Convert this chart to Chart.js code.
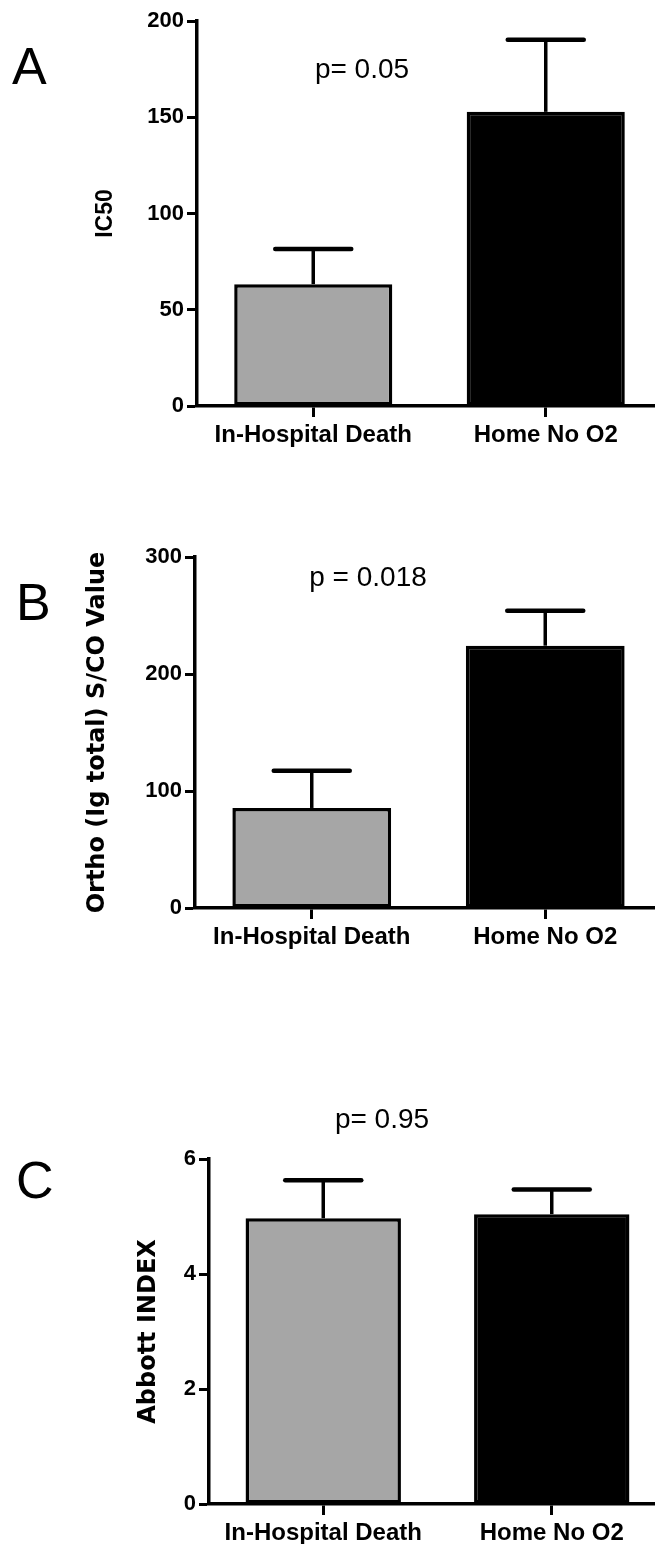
<!DOCTYPE html>
<html>
<head>
<meta charset="utf-8">
<script src="https://cdn.jsdelivr.net/npm/chart.js"></script>
<style>
  html, body { margin: 0; padding: 0; background: #fff; overflow: hidden; }
  body { width: 655px; height: 1544px; position: relative; }
  canvas { position: absolute; left: 0; }
</style>
</head>
<body>
<canvas id="chartA" width="662" height="460" style="top:0px"></canvas>
<canvas id="chartB" width="662" height="440" style="top:520px"></canvas>
<canvas id="chartC" width="666" height="454" style="top:1090px"></canvas>
<script>
// data (mean + SEM)
const categories = ['In-Hospital Death', 'Home No O2'];
const barColors = ['#a6a6a6', '#000000'];

const ic50Means = [63.3, 152.8];
const ic50Sem = [18.2, 37.5];
const ic50Ticks = [0, 50, 100, 150, 200];

const orthoMeans = [85.5, 224.2];
const orthoSem = [31.9, 29.9];
const orthoTicks = [0, 100, 200, 300];

const abbottMeans = [4.97, 5.04];
const abbottSem = [0.66, 0.43];
const abbottTicks = [0, 2, 4, 6];

const sans = "'Liberation Sans', Arial, sans-serif";

// error bars, p value and panel letter
const overlay = {
  id: 'overlay',
  afterDatasetsDraw(chart, args, opts) {
    const ctx = chart.ctx;
    const y = chart.scales.y;
    const meta = chart.getDatasetMeta(0);
    ctx.save();
    ctx.strokeStyle = '#000';
    meta.data.forEach((bar, i) => {
      const top = y.getPixelForValue(opts.means[i]);
      const hi = y.getPixelForValue(opts.means[i] + opts.sem[i]);
      ctx.lineWidth = 3.5;
      ctx.lineCap = 'butt';
      ctx.beginPath();
      ctx.moveTo(bar.x, top);
      ctx.lineTo(bar.x, hi);
      ctx.stroke();
      ctx.lineWidth = 4.5;
      ctx.lineCap = 'round';
      ctx.beginPath();
      ctx.moveTo(bar.x - 38, hi);
      ctx.lineTo(bar.x + 38, hi);
      ctx.stroke();
    });
    ctx.fillStyle = '#000';
    ctx.textBaseline = 'alphabetic';
    ctx.textAlign = 'center';
    ctx.font = "28px " + sans;
    ctx.fillText(opts.pText, opts.pX, opts.pY);
    ctx.textAlign = 'left';
    ctx.font = "52px " + sans;
    ctx.fillText(opts.letter, opts.letterX, opts.letterY);
    ctx.restore();
  }
};

function makePanel(id, p) {
  new Chart(document.getElementById(id), {
    type: 'bar',
    data: {
      labels: categories,
      datasets: [{
        data: p.means,
        backgroundColor: barColors,
        borderColor: '#000',
        borderWidth: 3.5,
        borderSkipped: false,
        barPercentage: 0.68,
        categoryPercentage: 1
      }]
    },
    options: {
      responsive: false,
      animation: false,
      events: [],
      layout: { padding: { top: p.padTop, right: 0, bottom: 0, left: 0 } },
      plugins: {
        legend: { display: false },
        tooltip: { enabled: false },
        overlay: p.overlay
      },
      scales: {
        x: {
          offset: true,
          afterFit: s => { s.height = p.xHeight; },
          grid: { offset: false, drawOnChartArea: false, drawTicks: true, tickLength: 11, tickWidth: 3, color: '#000' },
          border: { display: true, color: '#000', width: 3.5 },
          ticks: {
            color: '#000', padding: 4, autoSkip: false, maxRotation: 0, minRotation: 0,
            font: { family: sans, size: 24, weight: 'bold' }
          }
        },
        y: {
          min: p.ticks[0],
          max: p.ticks[p.ticks.length - 1],
          afterBuildTicks: s => { s.ticks = p.ticks.map(v => ({ value: v })); },
          afterFit: s => { s.width = p.axisWidth; },
          grid: { drawOnChartArea: false, drawTicks: true, tickLength: 10, tickWidth: 3, color: '#000' },
          border: { display: true, color: '#000', width: 3.5 },
          ticks: { color: '#000', padding: 3, font: { family: sans, size: 22, weight: 'bold' } },
          title: {
            display: true,
            text: p.title,
            color: '#000',
            font: p.titleFont,
            padding: { top: p.titlePad, bottom: 0 }
          }
        }
      }
    },
    plugins: [overlay]
  });
}

makePanel('chartA', {
  means: ic50Means, ticks: ic50Ticks, title: 'IC50',
  titleFont: { family: sans, size: 23, weight: 'bold' }, titlePad: 92,
  padTop: 21, xHeight: 54, axisWidth: 197,
  overlay: { means: ic50Means, sem: ic50Sem, pText: 'p= 0.05', pX: 362, pY: 78, letter: 'A', letterX: 12, letterY: 84 }
});

makePanel('chartB', {
  means: orthoMeans, ticks: orthoTicks, title: 'Ortho (Ig total) S/CO Value',
  titleFont: { family: "'DejaVu Sans', sans-serif", size: 24, weight: 'bold' }, titlePad: 83,
  padTop: 37, xHeight: 52, axisWidth: 195,
  overlay: { means: orthoMeans, sem: orthoSem, pText: 'p = 0.018', pX: 368, pY: 66, letter: 'B', letterX: 16, letterY: 100 }
});

makePanel('chartC', {
  means: abbottMeans, ticks: abbottTicks, title: 'Abbott INDEX',
  titleFont: { family: "'DejaVu Sans', sans-serif", size: 24, weight: 'bold' }, titlePad: 134,
  padTop: 69, xHeight: 40, axisWidth: 209,
  overlay: { means: abbottMeans, sem: abbottSem, pText: 'p= 0.95', pX: 382, pY: 38, letter: 'C', letterX: 16, letterY: 108 }
});
</script>
</body>
</html>
